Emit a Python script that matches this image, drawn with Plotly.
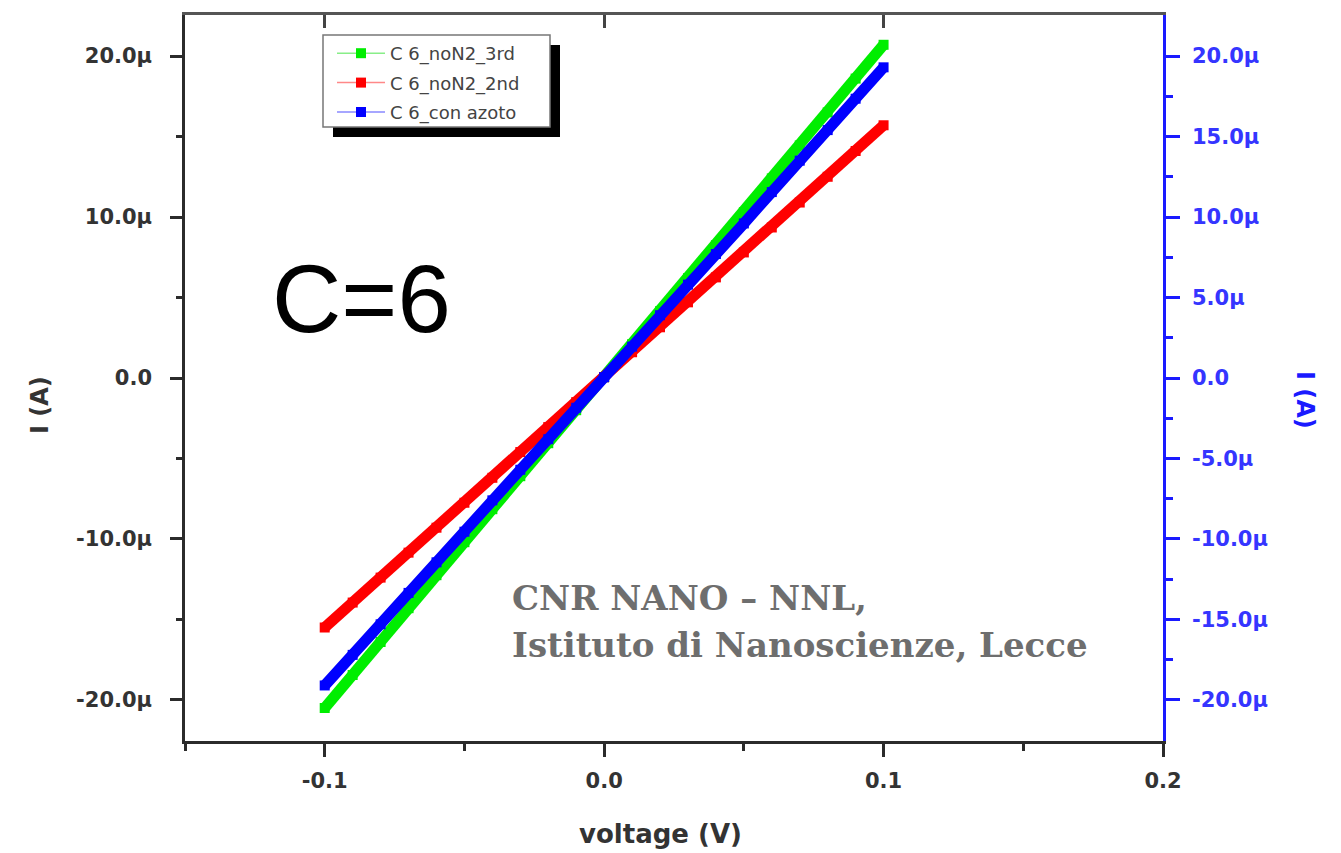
import plotly.graph_objects as go

# ---- data ----
voltage = [-0.10, -0.09, -0.08, -0.07, -0.06, -0.05, -0.04, -0.03, -0.02, -0.01, 0.00,
           0.01, 0.02, 0.03, 0.04, 0.05, 0.06, 0.07, 0.08, 0.09, 0.10]
i_noN2_3rd = [-20.5, -18.45, -16.4, -14.3, -12.25, -10.2, -8.15, -6.1, -4.05, -2.0, 0.05,
              2.1, 4.15, 6.2, 8.25, 10.3, 12.4, 14.45, 16.5, 18.6, 20.7]
i_noN2_2nd = [-15.5, -13.95, -12.4, -10.85, -9.3, -7.75, -6.2, -4.6, -3.05, -1.5, 0.05,
              1.6, 3.15, 4.7, 6.25, 7.8, 9.35, 10.9, 12.5, 14.1, 15.7]
i_con_azoto = [-19.1, -17.2, -15.3, -13.35, -11.45, -9.55, -7.6, -5.7, -3.8, -1.85, 0.05,
               1.95, 3.9, 5.8, 7.7, 9.6, 11.55, 13.5, 15.4, 17.35, 19.3]
series_names = ["C 6_noN2_3rd", "C 6_noN2_2nd", "C 6_con azoto"]
series_colors = ["#00ee00", "#ff0000", "#0000ff"]
legend_line_colors = ["#88ee88", "#ff8888", "#8888ff"]

x_tickvals = [-0.1, 0.0, 0.1, 0.2]
x_ticktext = ["-0.1", "0.0", "0.1", "0.2"]
x_minor = [-0.15, -0.05, 0.05, 0.15]
yl_tickvals = [-20, -10, 0, 10, 20]
yl_ticktext = ["-20.0μ", "-10.0μ", "0.0", "10.0μ", "20.0μ"]
yl_minor = [-15, -5, 5, 15]
yr_tickvals = [-20, -15, -10, -5, 0, 5, 10, 15, 20]
yr_ticktext = ["-20.0μ", "-15.0μ", "-10.0μ", "-5.0μ", "0.0", "5.0μ", "10.0μ", "15.0μ", "20.0μ"]
yr_minor = [-17.5, -12.5, -7.5, -2.5, 2.5, 7.5, 12.5, 17.5]

u = 1e-6
Y_RANGE = [-22.55 * u, 22.55 * u]
X_RANGE = [-0.15, 0.2]

# pixel helpers for paper-positioned decorations (plot area 185..1163 x 15..741)
L, R, T, B = 185, 1163, 15, 741
def px(xp):
    return (xp - L) / (R - L)
def py(yp):
    return (B - yp) / (B - T)

fig = go.Figure()

data_sets = [i_noN2_3rd, i_noN2_2nd, i_con_azoto]
for k, (vals, col) in enumerate(zip(data_sets, series_colors)):
    fig.add_trace(go.Scatter(
        x=voltage, y=[v * u for v in vals], mode="lines+markers",
        line=dict(color=col, width=11),
        marker=dict(symbol="square", size=10, color=col),
        showlegend=False, hoverinfo="skip",
        yaxis="y2" if k == 2 else "y",
    ))

# legend entries (proxy traces on the top axis)
for name, col, lcol in zip(series_names, series_colors, legend_line_colors):
    fig.add_trace(go.Scatter(
        x=[None], y=[None], mode="lines+markers", name=name,
        line=dict(color=lcol, width=1.5),
        marker=dict(symbol="square", size=10, color=col),
        xaxis="x2", yaxis="y", legendgroup=name, hoverinfo="skip",
    ))

tick_font = dict(family="DejaVu Sans", size=21, color="#333333", weight="bold")
blue = "#1a1aff"
title_font = dict(family="DejaVu Sans", size=24, color="#333333", weight="bold")

fig.update_layout(
    width=1341, height=853, autosize=False,
    margin=dict(l=L, r=1341 - R, t=T, b=853 - B),
    paper_bgcolor="white", plot_bgcolor="white",
    xaxis=dict(
        range=X_RANGE, tickmode="array", tickvals=x_tickvals, ticktext=x_ticktext,
        ticks="outside", ticklen=13, tickwidth=2.5, tickcolor="#2b2b2b",
        showline=True, linewidth=2.5, linecolor="#2b2b2b",
        showgrid=False, zeroline=False, tickfont=tick_font, ticklabelstandoff=6,
        minor=dict(tickmode="array", tickvals=x_minor, ticks="outside", ticklen=7,
                   tickwidth=2.5, tickcolor="#2b2b2b", showgrid=False),
    ),
    xaxis2=dict(
        range=X_RANGE, overlaying="x", side="top", anchor="y",
        tickmode="array", tickvals=x_tickvals, ticks="inside", ticklen=13,
        tickwidth=2.5, tickcolor="#444444", showticklabels=False,
        showline=True, linewidth=2.5, linecolor="#555555",
        showgrid=False, zeroline=False,
    ),
    yaxis=dict(
        range=Y_RANGE, tickmode="array", tickvals=[v * u for v in yl_tickvals],
        ticktext=yl_ticktext, ticks="outside", ticklen=12, tickwidth=2.5,
        tickcolor="#2b2b2b", showline=True, linewidth=2.5, linecolor="#2b2b2b",
        showgrid=False, zeroline=False, tickfont=tick_font, ticklabelstandoff=14,
        minor=dict(tickmode="array", tickvals=[v * u for v in yl_minor], ticks="outside",
                   ticklen=6, tickwidth=2.5, tickcolor="#2b2b2b", showgrid=False),
    ),
    yaxis2=dict(
        range=Y_RANGE, overlaying="y", side="right", anchor="x",
        tickmode="array", tickvals=[v * u for v in yr_tickvals], ticktext=yr_ticktext,
        ticks="outside", ticklen=14, tickwidth=2.5, tickcolor=blue,
        showline=True, linewidth=2.5, linecolor=blue,
        showgrid=False, zeroline=False,
        tickfont=dict(family="DejaVu Sans", size=21, color="#3535ff", weight="bold"),
        ticklabelstandoff=8,
        minor=dict(tickmode="array", tickvals=[v * u for v in yr_minor], ticks="outside",
                   ticklen=7, tickwidth=2.5, tickcolor=blue, showgrid=False),
    ),
    legend=dict(
        x=px(332), y=py(35), xanchor="left", yanchor="top",
        bgcolor="rgba(0,0,0,0)", borderwidth=0, itemwidth=48,
        font=dict(family="DejaVu Sans", size=18, color="#444444"),
        traceorder="grouped", tracegroupgap=3,
    ),
    shapes=[
        dict(type="rect", xref="paper", yref="paper",
             x0=px(333), x1=px(560), y0=py(137), y1=py(45),
             fillcolor="black", line=dict(width=0), layer="above"),
        dict(type="rect", xref="paper", yref="paper",
             x0=px(323), x1=px(550), y0=py(127), y1=py(35),
             fillcolor="white", line=dict(width=1.5, color="#777777"), layer="above"),
    ],
    annotations=[
        dict(text="C=6", xref="paper", yref="paper",
             x=px(361), y=py(299), xanchor="center", yanchor="middle",
             showarrow=False, font=dict(family="Liberation Sans", size=96, color="black")),
        dict(text="CNR NANO – NNL,", xref="paper", yref="paper",
             x=px(510), y=py(598), xanchor="left", yanchor="middle", showarrow=False,
             font=dict(family="DejaVu Serif", size=34, color="#6e6e6e", weight="bold")),
        dict(text="Istituto di Nanoscienze, Lecce", xref="paper", yref="paper",
             x=px(510), y=py(645), xanchor="left", yanchor="middle", showarrow=False,
             font=dict(family="DejaVu Serif", size=34, color="#6e6e6e", weight="bold")),
        dict(text="I (A)", xref="paper", yref="paper",
             x=px(40), y=py(405), xanchor="center", yanchor="middle",
             textangle=-90, showarrow=False, font=title_font),
        dict(text="voltage (V)", xref="paper", yref="paper",
             x=px(660), y=py(834), xanchor="center", yanchor="middle",
             showarrow=False, font=dict(family="DejaVu Sans", size=26, color="#333333",
                                        weight="bold")),
        dict(text="I (A)", xref="paper", yref="paper",
             x=px(1305), y=py(400), xanchor="center", yanchor="middle",
             textangle=90, showarrow=False,
             font=dict(family="DejaVu Sans", size=24, color=blue, weight="bold")),
    ],
)

fig.write_html("out.html")
